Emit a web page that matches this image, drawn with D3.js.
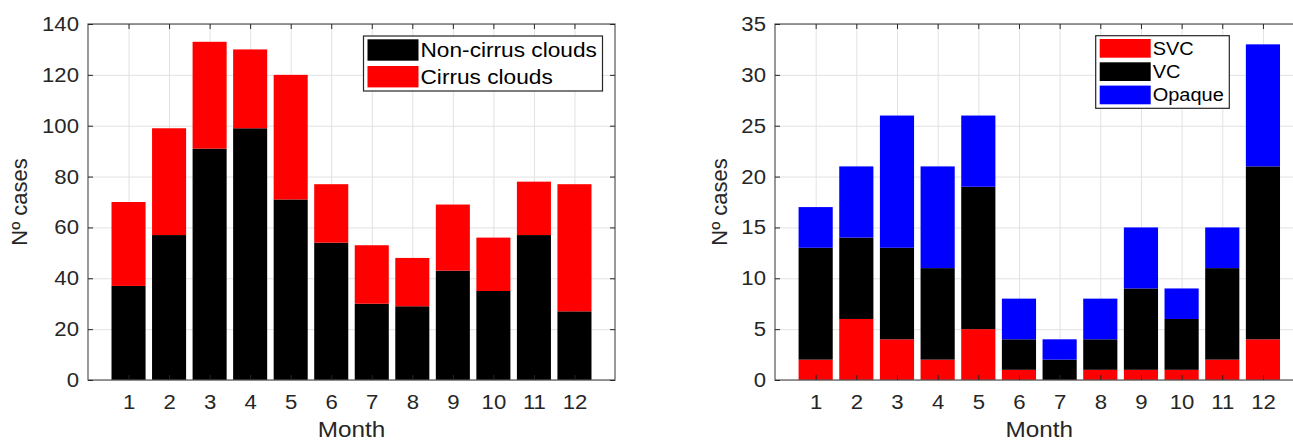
<!DOCTYPE html>
<html>
<head>
<meta charset="utf-8">
<script src="https://cdn.jsdelivr.net/npm/d3@7"></script>
<style>
  body { margin: 0; background: #fff; }
  svg { display: block; font-family: "Liberation Sans", Arial, sans-serif; }
</style>
</head>
<body>
<svg id="chart" width="1293" height="441"></svg>
<script>
// values
const months = [1, 2, 3, 4, 5, 6, 7, 8, 9, 10, 11, 12];
const nonCirrus = [37, 57, 91, 99, 71, 54, 30, 29, 43, 35, 57, 27];
const cirrus = [33, 42, 42, 31, 49, 23, 23, 19, 26, 21, 21, 50];
const svc = [2, 6, 4, 2, 5, 1, 0, 1, 1, 1, 2, 4];
const vc = [11, 8, 9, 9, 14, 3, 2, 3, 8, 5, 9, 17];
const opaque = [4, 7, 13, 10, 7, 4, 2, 4, 6, 3, 4, 12];
const leftTicks = [0, 20, 40, 60, 80, 100, 120, 140];
const rightTicks = [0, 5, 10, 15, 20, 25, 30, 35];

const svg = d3.select('#chart');
const plotTop = 24, plotBottom = 380;
const stretch = 1.08; // the original figure text is a bit wide

function drawPanel(cfg) {
    const g = svg.append('g');
    const x = d3.scaleLinear().domain([0, 13]).range([cfg.left, cfg.right]);
    const y = d3.scaleLinear().domain([0, cfg.yMax]).range([plotBottom, plotTop]);

    // grid
    const gx = g.append('g')
        .attr('transform', `translate(0,${plotBottom})`)
        .call(d3.axisBottom(x).tickValues(months).tickSize(-(plotBottom - plotTop)).tickFormat(''));
    const gy = g.append('g')
        .attr('transform', `translate(${cfg.left},0)`)
        .call(d3.axisLeft(y).tickValues(cfg.ticks).tickSize(-(cfg.right - cfg.left)).tickFormat(''));
    [gx, gy].forEach((s) => {
        s.select('.domain').remove();
        s.selectAll('line').attr('stroke', '#e2e2e2').attr('stroke-width', 1);
    });

    // stacked bars
    const rows = months.map((m, i) => {
        const r = { month: m };
        cfg.series.forEach((s) => (r[s.key] = s.values[i]));
        return r;
    });
    const stacked = d3.stack().keys(cfg.series.map((s) => s.key))(rows);
    const colorOf = Object.fromEntries(cfg.series.map((s) => [s.key, s.color]));
    const bw = x(cfg.barWidth) - x(0);

    g.append('g')
        .selectAll('g')
        .data(stacked)
        .join('g')
        .attr('fill', (d) => colorOf[d.key])
        .selectAll('rect')
        .data((d) => d)
        .join('rect')
        .attr('x', (d) => x(d.data.month) - bw / 2)
        .attr('width', bw)
        .attr('y', (d) => y(d[1]))
        .attr('height', (d) => y(d[0]) - y(d[1]));

    // box
    g.append('rect')
        .attr('x', cfg.left).attr('y', plotTop)
        .attr('width', cfg.right - cfg.left).attr('height', plotBottom - plotTop)
        .attr('fill', 'none').attr('stroke', '#555').attr('stroke-width', 1.2);

    // axes with inward ticks
    const xb = g.append('g')
        .attr('transform', `translate(0,${plotBottom})`)
        .call(d3.axisBottom(x).tickValues(months).tickSize(-5).tickPadding(14));
    const xt = g.append('g')
        .attr('transform', `translate(0,${plotTop})`)
        .call(d3.axisTop(x).tickValues(months).tickSize(-5).tickFormat(''));
    const yl = g.append('g')
        .attr('transform', `translate(${cfg.left},0)`)
        .call(d3.axisLeft(y).tickValues(cfg.ticks).tickSize(-5).tickPadding(9));
    const yr = g.append('g')
        .attr('transform', `translate(${cfg.right},0)`)
        .call(d3.axisRight(y).tickValues(cfg.ticks).tickSize(-5).tickFormat(''));
    [xb, xt, yl, yr].forEach((s) => {
        s.attr('font-family', null).attr('font-size', 20.5);
        s.select('.domain').remove();
        s.selectAll('line').attr('stroke', '#262626');
        s.selectAll('text').attr('fill', '#262626');
    });
    xb.selectAll('text').attr('transform', `scale(${stretch},1)`);
    yl.selectAll('text')
        .attr('x', null)
        .attr('transform', `translate(-9,0) scale(${stretch},1)`);

    // titles
    g.append('text')
        .attr('transform', `translate(${(cfg.left + cfg.right) / 2},437) scale(${stretch},1)`)
        .attr('text-anchor', 'middle').attr('font-size', 22.5).attr('fill', '#262626')
        .text('Month');
    g.append('text')
        .attr('transform', `translate(${cfg.yTitleX},${(plotTop + plotBottom) / 2}) rotate(-90)`)
        .attr('text-anchor', 'middle').attr('font-size', 22).attr('fill', '#262626')
        .text('Nº cases');

    // legend
    const L = cfg.legend;
    const lg = g.append('g');
    lg.append('rect')
        .attr('x', L.x).attr('y', L.y).attr('width', L.w).attr('height', L.h)
        .attr('fill', '#fff').attr('stroke', '#262626').attr('stroke-width', 1.2);
    L.items.forEach((it, i) => {
        const yy = L.y + L.pad + i * L.step;
        lg.append('rect')
            .attr('x', L.x + 4).attr('y', yy).attr('width', 51).attr('height', L.sh)
            .attr('fill', colorOf[it]);
        lg.append('text')
            .attr('transform', `translate(${L.x + 57},${yy + L.sh / 2}) scale(${stretch},1)`)
            .attr('dy', '0.35em').attr('font-size', L.fs).attr('fill', '#000')
            .text(cfg.series.find((s) => s.key === it).label);
    });
}

drawPanel({
    left: 88, right: 615, yMax: 140, ticks: leftTicks, barWidth: 0.84, yTitleX: 27,
    series: [
        { key: 'non', label: 'Non-cirrus clouds', values: nonCirrus, color: '#000000' },
        { key: 'cir', label: 'Cirrus clouds', values: cirrus, color: '#ff0000' },
    ],
    legend: { x: 363.5, y: 36, w: 239, h: 55, pad: 3.3, step: 26.7, sh: 21.4, fs: 21, items: ['non', 'cir'] },
});

drawPanel({
    left: 775, right: 1303.6, yMax: 35, ticks: rightTicks, barWidth: 0.84, yTitleX: 727,
    series: [
        { key: 'svc', label: 'SVC', values: svc, color: '#ff0000' },
        { key: 'vc', label: 'VC', values: vc, color: '#000000' },
        { key: 'opq', label: 'Opaque', values: opaque, color: '#0000ff' },
    ],
    legend: { x: 1095.7, y: 35.7, w: 133.6, h: 72.6, pad: 3.3, step: 23.3, sh: 18.7, fs: 18.5, items: ['svc', 'vc', 'opq'] },
});
</script>
</body>
</html>
